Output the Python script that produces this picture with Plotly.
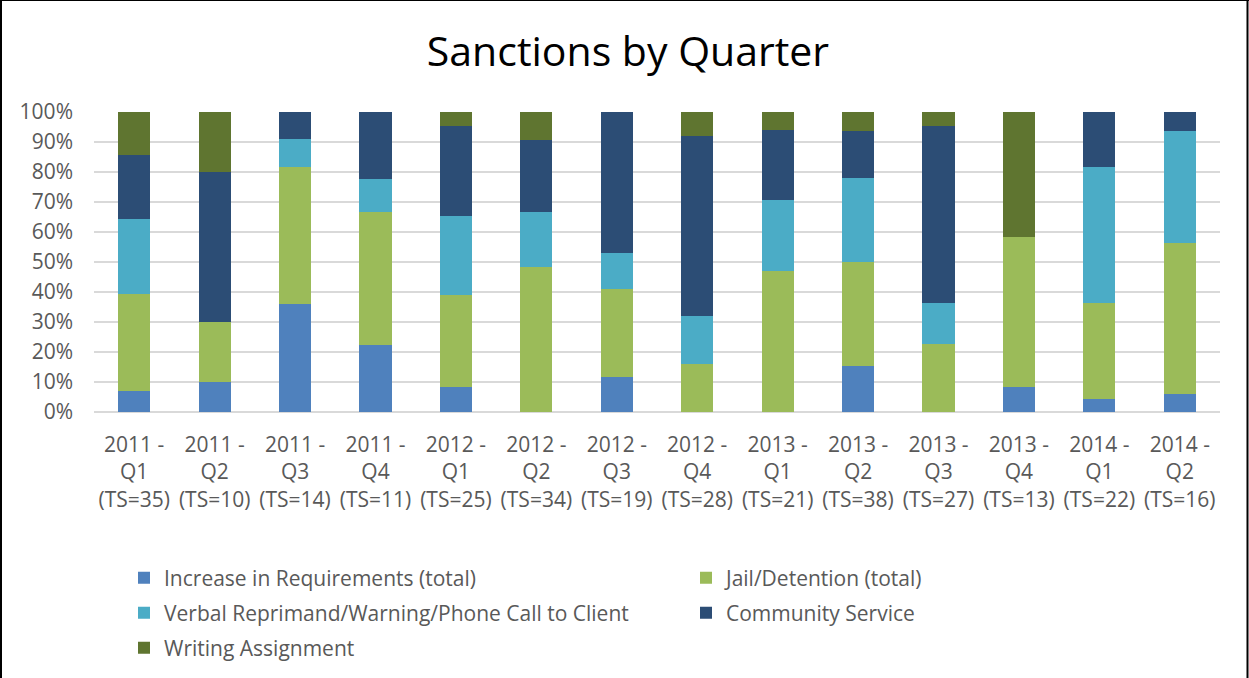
import plotly.graph_objects as go

quarters = ["2011 - Q1", "2011 - Q2", "2011 - Q3", "2011 - Q4",
            "2012 - Q1", "2012 - Q2", "2012 - Q3", "2012 - Q4",
            "2013 - Q1", "2013 - Q2", "2013 - Q3", "2013 - Q4",
            "2014 - Q1", "2014 - Q2"]
ts_counts = [35, 10, 14, 11, 25, 34, 19, 28, 21, 38, 27, 13, 22, 16]

increase_req = [6.9, 9.9, 36.1, 22.2, 8.5, 0, 11.6, 0, 0, 15.5, 0, 8.2, 4.2, 6.0]
jail_detention = [32.3, 20.0, 45.6, 44.4, 30.5, 48.4, 29.4, 16.0, 46.9, 34.4, 22.6, 50.1, 32.2, 50.2]
verbal_reprimand = [25.0, 0, 9.2, 11.1, 26.2, 18.2, 11.9, 15.9, 23.7, 28.1, 13.8, 0, 45.3, 37.5]
community_service = [21.4, 50.0, 9.1, 22.3, 30.3, 24.2, 47.1, 60.1, 23.4, 15.7, 58.9, 0, 18.3, 6.3]
writing_assignment = [14.4, 20.1, 0, 0, 4.5, 9.2, 0, 8.0, 6.0, 6.3, 4.7, 41.7, 0, 0]

y_ticks = [0, 10, 20, 30, 40, 50, 60, 70, 80, 90, 100]
y_ticktext = [f"{v}%" for v in y_ticks]

labels = []
for q, ts in zip(quarters, ts_counts):
    year, qq = q.split(" - ")
    labels.append(f"{year} -<br>{qq}<br>(TS={ts})")

W, H = 1249, 678
L, R, T, B = 94, 29, 112, 266
pw = W - L - R
ph = H - T - B


def px_x(p):
    return (p - L) / pw


def px_y(p):
    return (H - B - p) / ph


# legend slot positions (pixel) for each series: (left x of item, row center y)
series = [
    ("Increase in Requirements (total)", increase_req, "#4F81BD", "legend", 124, 578),
    ("Jail/Detention (total)", jail_detention, "#9BBB59", "legend2", 686, 578),
    ("Verbal Reprimand/Warning/Phone Call to Client", verbal_reprimand, "#4BACC6", "legend3", 124, 613),
    ("Community Service", community_service, "#2C4D75", "legend4", 686, 613),
    ("Writing Assignment", writing_assignment, "#5F7530", "legend5", 124, 648),
]

FONT = "Open Sans"
fig = go.Figure()
legends = {}
for name, vals, color, lg, lx, ly in series:
    fig.add_trace(go.Bar(
        x=labels, y=vals, name=name, legend=lg,
        marker=dict(color=color, line=dict(width=0)),
        hoverinfo="x+y+name",
    ))
    legends[lg] = dict(
        orientation="v", xref="paper", yref="paper",
        x=px_x(lx), xanchor="left", y=px_y(ly), yanchor="middle",
        font=dict(family=FONT, size=21, color="#595959"),
        bgcolor="rgba(0,0,0,0)", borderwidth=0, traceorder="normal",
        itemclick=False, itemdoubleclick=False,
    )

fig.update_layout(
    width=W, height=H,
    margin=dict(l=L, r=R, t=T, b=B, autoexpand=False),
    paper_bgcolor="white", plot_bgcolor="white",
    barmode="stack", bargap=0.6,
    title=dict(text="Sanctions by Quarter", x=628 / W, xanchor="center",
               y=1 - 52 / H, yanchor="middle", yref="container",
               font=dict(family=FONT, size=41, color="#000000")),
    xaxis=dict(tickfont=dict(family=FONT, size=21, color="#595959"),
               showgrid=False, showline=False, ticks="", tickangle=0,
               ticklabelstandoff=18, automargin=False),
    yaxis=dict(range=[0, 100], tickmode="array", tickvals=y_ticks, ticktext=y_ticktext,
               tickfont=dict(family=FONT, size=21, color="#595959"),
               showgrid=True, gridcolor="#D9D9D9", gridwidth=2,
               zeroline=True, zerolinecolor="#D9D9D9", zerolinewidth=2,
               showline=False, ticks="", ticklabelstandoff=20, automargin=False),
    showlegend=True,
    shapes=[
        dict(type="line", xref="paper", yref="paper", x0=px_x(1), x1=px_x(1),
             y0=px_y(0), y1=px_y(H), line=dict(color="black", width=2)),
        dict(type="line", xref="paper", yref="paper", x0=px_x(0), x1=px_x(W),
             y0=px_y(0.5), y1=px_y(0.5), line=dict(color="black", width=1)),
        dict(type="line", xref="paper", yref="paper", x0=px_x(1247.5), x1=px_x(1247.5),
             y0=px_y(0), y1=px_y(H), line=dict(color="black", width=2)),
    ],
)
fig.update_layout(**legends)

fig.write_html(
    "out.html",
    config={"displayModeBar": False},
    post_script="document.body.style.margin='0';document.body.style.overflow='hidden';",
)
